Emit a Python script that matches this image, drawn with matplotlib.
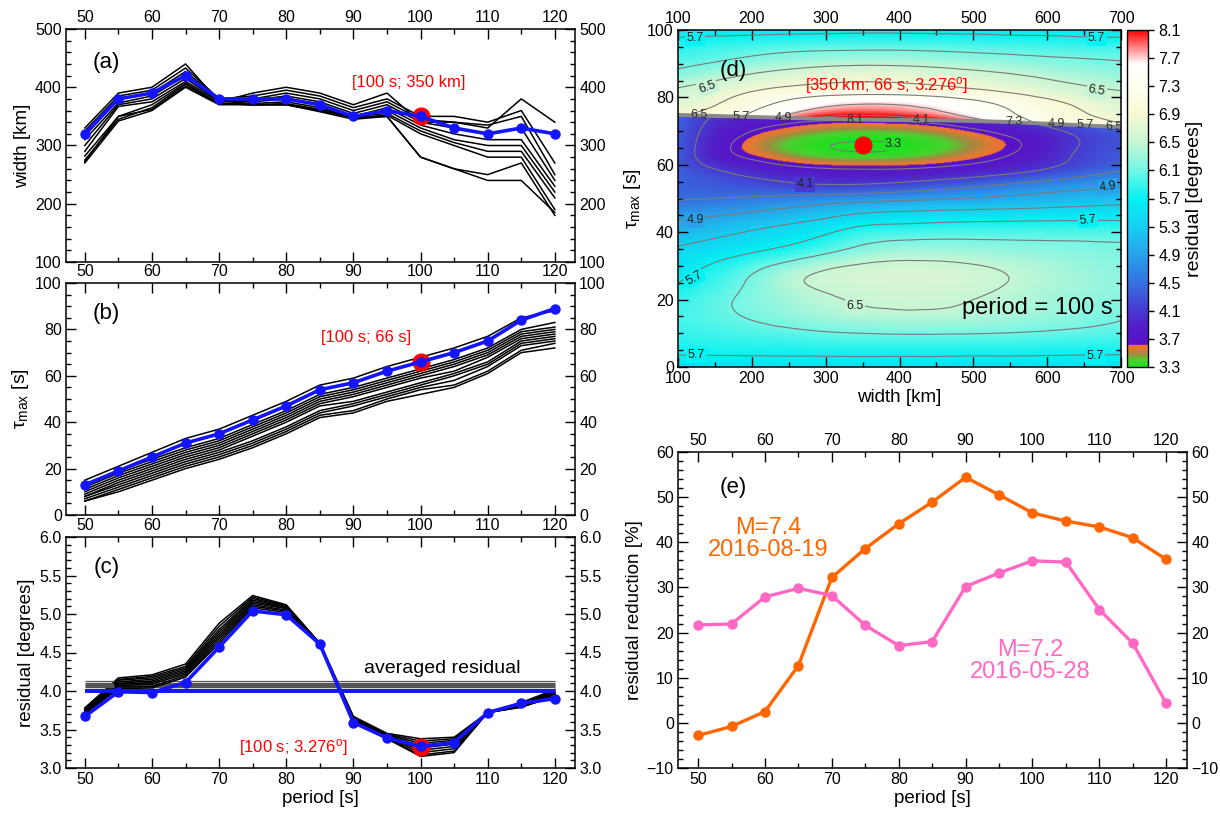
import numpy as np
import matplotlib
matplotlib.use("Agg")
import matplotlib.pyplot as plt
import matplotlib.tri as mtri
from matplotlib.colors import LinearSegmentedColormap, Normalize
from matplotlib.ticker import MultipleLocator, FormatStrFormatter

plt.rcParams['font.family'] = ['Liberation Sans', 'DejaVu Sans']
plt.rcParams['mathtext.fontset'] = 'custom'
plt.rcParams['mathtext.rm'] = 'Liberation Sans'
plt.rcParams['mathtext.it'] = 'Liberation Sans:italic'

# ---------------- data ----------------
PERIOD = [50, 55, 60, 65, 70, 75, 80, 85, 90, 95, 100, 105, 110, 115, 120]

BEST_PERIOD = 100
BEST_WIDTH = 350
BEST_TAU = 66
BEST_RESID = 3.276

WIDTH_BEST = [320, 380, 390, 420, 380, 380, 380, 370, 350, 360, 350, 330, 320, 330, 320]
WIDTH_OTHERS = [
    [330, 390, 400, 440, 375, 390, 400, 390, 370, 390, 340, 340, 330, 380, 340],
    [325, 385, 395, 433, 380, 385, 395, 385, 365, 380, 350, 350, 340, 360, 270],
    [316, 380, 390, 427, 380, 380, 390, 380, 360, 375, 345, 340, 335, 350, 250],
    [310, 373, 385, 420, 378, 378, 385, 375, 355, 370, 340, 330, 320, 330, 240],
    [300, 370, 380, 415, 377, 375, 380, 370, 350, 365, 335, 320, 310, 310, 230],
    [290, 367, 375, 410, 376, 372, 375, 365, 350, 360, 330, 310, 300, 300, 220],
    [282, 350, 370, 407, 373, 370, 372, 362, 350, 355, 325, 305, 290, 290, 210],
    [275, 345, 365, 405, 372, 370, 370, 360, 348, 352, 320, 300, 280, 280, 190],
    [270, 342, 360, 400, 370, 370, 370, 358, 345, 350, 280, 260, 250, 270, 180],
    [272, 350, 362, 402, 372, 370, 370, 360, 348, 350, 280, 260, 240, 240, 185],
]

TAU_BEST = [13, 19, 25, 31, 35, 41, 47, 54, 57, 62, 66, 70, 75, 84, 89]
TAU_OTHERS = [
    [15, 21, 27, 33, 37, 43, 49, 56, 59, 64, 68, 72, 77, 85, 88],
    [13, 19, 24, 29, 33, 39, 45, 52, 55, 59, 63, 67, 72, 80, 83],
    [12, 18, 23, 28, 32, 38, 44, 51, 54, 58, 62, 66, 71, 79, 81],
    [11, 17, 22, 27, 31, 37, 43, 50, 53, 57, 61, 65, 70, 78, 80],
    [10, 16, 21, 26, 30, 36, 42, 49, 52, 56, 60, 64, 69, 77, 79],
    [9, 15, 20, 25, 29, 35, 41, 48, 51, 55, 59, 62, 68, 76, 78],
    [8, 14, 19, 24, 28, 34, 40, 47, 49, 53, 57, 61, 66, 75, 77],
    [8, 13, 18, 23, 27, 32, 38, 45, 48, 52, 56, 60, 65, 74, 76],
    [7, 12, 17, 22, 26, 31, 37, 44, 47, 51, 55, 58, 64, 73, 75],
    [6, 11, 16, 21, 25, 30, 36, 43, 45, 50, 54, 56, 62, 71, 74],
    [6, 10, 15, 20, 24, 29, 35, 42, 44, 49, 52, 55, 61, 70, 72],
]

RES_BEST = [3.67, 3.99, 3.98, 4.11, 4.57, 5.04, 4.99, 4.61, 3.59, 3.39, 3.28, 3.33, 3.72, 3.84, 3.90]
RES_OTHERS = [
    [3.78, 4.17, 4.21, 4.35, 4.88, 5.24, 5.12, 4.62, 3.67, 3.45, 3.38, 3.40, 3.72, 3.85, 4.02],
    [3.77, 4.15, 4.19, 4.32, 4.84, 5.22, 5.11, 4.62, 3.66, 3.44, 3.35, 3.38, 3.72, 3.84, 4.00],
    [3.76, 4.14, 4.17, 4.30, 4.80, 5.20, 5.10, 4.61, 3.65, 3.43, 3.32, 3.36, 3.72, 3.83, 3.99],
    [3.75, 4.12, 4.15, 4.28, 4.77, 5.18, 5.09, 4.61, 3.64, 3.42, 3.29, 3.34, 3.72, 3.82, 3.98],
    [3.74, 4.10, 4.13, 4.26, 4.74, 5.16, 5.08, 4.61, 3.63, 3.41, 3.26, 3.31, 3.72, 3.81, 3.97],
    [3.73, 4.09, 4.11, 4.24, 4.71, 5.14, 5.07, 4.60, 3.62, 3.40, 3.23, 3.28, 3.72, 3.80, 3.96],
    [3.72, 4.07, 4.09, 4.22, 4.68, 5.12, 5.05, 4.60, 3.61, 3.39, 3.20, 3.25, 3.72, 3.79, 3.95],
    [3.71, 4.05, 4.06, 4.20, 4.65, 5.10, 5.04, 4.60, 3.61, 3.38, 3.17, 3.22, 3.72, 3.79, 3.93],
    [3.70, 4.03, 4.04, 4.18, 4.62, 5.08, 5.02, 4.60, 3.60, 3.38, 3.15, 3.20, 3.72, 3.80, 3.92],
]

REDUCTION_M74 = [-2.8, -0.8, 2.5, 12.7, 32.2, 38.6, 44.1, 48.9, 54.4, 50.5, 46.5, 44.7, 43.4, 41.0, 36.2]
REDUCTION_M72 = [21.7, 21.9, 27.9, 29.8, 28.2, 21.6, 17.1, 18.0, 30.2, 33.2, 35.9, 35.6, 25.1, 17.6, 4.3]

# residual map (period = 100 s), read on a coarse grid
GRID_WIDTH = [100, 150, 200, 250, 300, 350, 400, 450, 500, 550, 600, 650, 700]
BOUNDARY_TAU = [74.8, 74.5, 74.2, 73.9, 73.6, 73.4, 73.3, 73.2, 73.0, 72.7, 72.2, 71.7, 71.2]
LOWER_TAU = [0, 5, 10, 15, 20, 25, 30, 35, 40, 45, 50, 54, 58, 62, 66, 70]
LOWER_RESID = [
    [5.50, 5.50, 5.50, 5.50, 5.50, 5.50, 5.50, 5.50, 5.50, 5.50, 5.50, 5.50, 5.50],
    [5.76, 5.77, 5.78, 5.79, 5.80, 5.81, 5.81, 5.81, 5.80, 5.80, 5.79, 5.78, 5.77],
    [5.88, 5.92, 5.97, 6.02, 6.07, 6.10, 6.12, 6.12, 6.11, 6.09, 6.06, 6.03, 6.00],
    [5.94, 6.02, 6.13, 6.24, 6.34, 6.40, 6.43, 6.43, 6.40, 6.35, 6.28, 6.20, 6.12],
    [5.86, 6.02, 6.18, 6.34, 6.46, 6.53, 6.56, 6.55, 6.50, 6.43, 6.35, 6.27, 6.20],
    [5.70, 5.92, 6.15, 6.42, 6.56, 6.62, 6.65, 6.64, 6.59, 6.49, 6.40, 6.32, 6.25],
    [5.52, 5.75, 5.98, 6.22, 6.42, 6.54, 6.58, 6.57, 6.52, 6.44, 6.36, 6.28, 6.20],
    [5.35, 5.48, 5.62, 5.78, 5.98, 6.18, 6.28, 6.29, 6.27, 6.24, 6.21, 6.18, 6.15],
    [5.07, 5.20, 5.33, 5.47, 5.65, 5.86, 5.92, 5.95, 5.96, 5.96, 5.96, 5.96, 5.95],
    [4.81, 4.88, 4.98, 5.09, 5.22, 5.37, 5.43, 5.47, 5.50, 5.52, 5.54, 5.56, 5.57],
    [4.47, 4.50, 4.55, 4.61, 4.68, 4.74, 4.80, 4.86, 4.92, 4.98, 5.04, 5.10, 5.15],
    [4.40, 4.33, 4.25, 4.17, 4.12, 4.13, 4.20, 4.30, 4.42, 4.55, 4.67, 4.77, 4.85],
    [4.38, 4.15, 3.97, 3.85, 3.78, 3.76, 3.77, 3.82, 3.90, 4.02, 4.18, 4.36, 4.52],
    [4.33, 3.90, 3.67, 3.52, 3.43, 3.40, 3.42, 3.49, 3.60, 3.74, 3.95, 4.18, 4.33],
    [4.35, 3.86, 3.56, 3.40, 3.31, 3.28, 3.30, 3.37, 3.49, 3.64, 3.87, 4.13, 4.30],
    [4.35, 3.95, 3.70, 3.56, 3.47, 3.44, 3.46, 3.53, 3.65, 3.80, 4.00, 4.22, 4.35],
]
LOWER_AT_BOUNDARY = [4.40, 4.08, 3.90, 3.80, 3.74, 3.72, 3.74, 3.79, 3.88, 4.00, 4.17, 4.35, 4.45]

UPPER_AT_BOUNDARY = [6.85, 7.05, 7.40, 7.85, 8.25, 8.40, 8.35, 8.15, 7.85, 7.50, 7.25, 7.10, 7.00]
UPPER_NEAR_BOUNDARY = [6.80, 6.98, 7.30, 7.65, 7.95, 8.05, 8.00, 7.85, 7.62, 7.38, 7.15, 7.00, 6.88]
UPPER_TAU = [78, 82, 86, 90, 94, 98, 100]
UPPER_RESID = [
    [6.70, 6.88, 7.15, 7.42, 7.62, 7.70, 7.68, 7.58, 7.42, 7.22, 7.02, 6.82, 6.66],
    [6.55, 6.70, 6.88, 7.02, 7.10, 7.13, 7.12, 7.06, 6.96, 6.84, 6.70, 6.58, 6.50],
    [6.26, 6.42, 6.58, 6.70, 6.78, 6.82, 6.80, 6.74, 6.66, 6.57, 6.47, 6.38, 6.30],
    [6.02, 6.13, 6.25, 6.35, 6.42, 6.45, 6.44, 6.40, 6.34, 6.28, 6.22, 6.17, 6.13],
    [5.86, 5.93, 6.00, 6.06, 6.09, 6.10, 6.10, 6.08, 6.05, 6.02, 5.99, 5.97, 5.95],
    [5.69, 5.71, 5.73, 5.75, 5.76, 5.77, 5.77, 5.76, 5.75, 5.73, 5.72, 5.70, 5.69],
    [5.60, 5.61, 5.62, 5.63, 5.64, 5.65, 5.65, 5.64, 5.63, 5.62, 5.61, 5.60, 5.59],
]

BAND_LABELS = ["6.5", "5.7", "4.9", "8.1", "4.1", "7.3", "4.9", "5.7", "6.5"]
BAND_LABEL_WIDTH = [128, 185, 243, 340, 430, 555, 612, 652, 690]

# contour labels: (level, width, tau, rotation)
CONTOUR_LABELS = [
    (3.3, 392, 66.3, 0),
    (4.1, 272, 54.2, 0),
    (4.9, 123, 43.6, 0), (4.9, 682, 53.5, 8),
    (5.7, 123, 97.6, 0), (5.7, 667, 97.6, 0), (5.7, 122, 26.5, 30),
    (5.7, 655, 43.6, 5), (5.7, 125, 3.5, 0), (5.7, 665, 3.2, 0),
    (6.5, 140, 83.0, 20), (6.5, 667, 82.0, -10), (6.5, 340, 18.0, 0),
]

CMAP_NODES = [
    (3.30, '#20e020'), (3.40, '#4cd030'), (3.48, '#a08a40'), (3.56, '#e07a34'),
    (3.615, '#f07030'), (3.62, '#5a10c8'), (3.90, '#5220c8'), (4.10, '#4838d0'),
    (4.50, '#3472e0'), (4.90, '#28a2ea'), (5.30, '#16cff2'), (5.70, '#04f2f2'),
    (6.10, '#72f6e6'), (6.50, '#c6f6d4'), (6.90, '#f8f8d4'), (7.30, '#fffff0'),
    (7.62, '#ffffff'), (7.70, '#ffd4d4'), (8.10, '#ff0000'),
]

# ---------------- figure ----------------
fig = plt.figure(figsize=(12.2, 8.15), dpi=100)
W, H = 1220.0, 815.0


def add_ax(l, t, r, b):
    return fig.add_axes([l / W, 1 - b / H, (r - l) / W, (b - t) / H])


def style(ax, xmaj, xmin, ymaj, ymin):
    ax.xaxis.set_major_locator(MultipleLocator(xmaj))
    ax.xaxis.set_minor_locator(MultipleLocator(xmin))
    ax.yaxis.set_major_locator(MultipleLocator(ymaj))
    ax.yaxis.set_minor_locator(MultipleLocator(ymin))
    ax.tick_params(which='both', direction='in', top=True, right=True,
                   labelsize=11.5, width=1.0, pad=3)
    ax.tick_params(which='major', length=7)
    ax.tick_params(which='minor', length=3.5)
    for s in ax.spines.values():
        s.set_linewidth(1.1)


XLIM = (47.2, 123.0)
ax_a = add_ax(66, 29, 575, 262)
ax_b = add_ax(66, 283, 575, 515)
ax_c = add_ax(66, 537, 575, 768)
ax_d = add_ax(678, 30, 1121, 367)
cax = add_ax(1127, 30, 1148, 367)
ax_e = add_ax(678, 452, 1187, 768)

BLUE = '#1414ff'

# (a)
for ys in WIDTH_OTHERS:
    ax_a.plot(PERIOD, ys, color='black', lw=1.1)
ax_a.plot(BEST_PERIOD, BEST_WIDTH, 'o', color='red', ms=12, zorder=4)
ax_a.plot(PERIOD, WIDTH_BEST, '-o', color=BLUE, lw=2.6, ms=6.5, zorder=5)
ax_a.set_xlim(*XLIM)
ax_a.set_ylim(100, 500)
style(ax_a, 10, 5, 100, 20)
ax_a.tick_params(labeltop=True, labelbottom=False, labelright=True)
ax_a.set_ylabel('width [km]', fontsize=13.5, labelpad=3)
ax_a.text(53.2, 443, '(a)', fontsize=16, ha='center', va='center')
ax_a.text(98.3, 409, '[%d s; %d km]' % (BEST_PERIOD, BEST_WIDTH), color='red',
          fontsize=12, ha='center', va='center')

# (b)
for ys in TAU_OTHERS:
    ax_b.plot(PERIOD, ys, color='black', lw=1.1)
ax_b.plot(BEST_PERIOD, BEST_TAU, 'o', color='red', ms=12, zorder=4)
ax_b.plot(PERIOD, TAU_BEST, '-o', color=BLUE, lw=2.6, ms=6.5, zorder=5)
ax_b.set_xlim(*XLIM)
ax_b.set_ylim(0, 100)
style(ax_b, 10, 5, 20, 5)
ax_b.tick_params(labeltop=True, labelbottom=False, labelright=True)
ax_b.set_ylabel(r'τ$_{\mathrm{max}}$ [s]', fontsize=14, labelpad=3)
ax_b.text(53.2, 87, '(b)', fontsize=16, ha='center', va='center')
ax_b.text(91.9, 76.3, '[%d s; %d s]' % (BEST_PERIOD, BEST_TAU), color='red',
          fontsize=12, ha='center', va='center')

# (c)
for ys in RES_OTHERS:
    ax_c.plot(PERIOD, ys, color='black', lw=1.1)
    ax_c.hlines(np.mean(ys), PERIOD[0], PERIOD[-1], color='#555555', lw=0.9)
ax_c.hlines(np.mean(RES_BEST), PERIOD[0], PERIOD[-1], color=BLUE, lw=2.8, zorder=3)
ax_c.plot(BEST_PERIOD, BEST_RESID, 'o', color='red', ms=12, zorder=4)
ax_c.plot(PERIOD, RES_BEST, '-o', color=BLUE, lw=2.6, ms=6.5, zorder=5)
ax_c.set_xlim(*XLIM)
ax_c.set_ylim(3.0, 6.0)
style(ax_c, 10, 5, 0.5, 0.1)
ax_c.yaxis.set_major_formatter(FormatStrFormatter('%.1f'))
ax_c.tick_params(labeltop=True, labelbottom=True, labelright=True)
ax_c.set_ylabel('residual [degrees]', fontsize=13.5, labelpad=3)
ax_c.set_xlabel('period [s]', fontsize=13.5, labelpad=2)
ax_c.text(53.2, 5.60, '(c)', fontsize=16, ha='center', va='center')
ax_c.text(103.2, 4.29, 'averaged residual', fontsize=14, ha='center', va='center')
ax_c.text(81, 3.26, '[%d s; %.3f$^{\\mathrm{o}}$]' % (BEST_PERIOD, BEST_RESID),
          color='red', fontsize=12, ha='center', va='center')

# (d) residual map
norm = Normalize(3.3, 8.1)
cmap = LinearSegmentedColormap.from_list(
    'resid', [((v - 3.3) / (8.1 - 3.3), c) for v, c in CMAP_NODES], N=1024)


def mesh_interp(xs, rows_tau, rows_val):
    ny, nx = len(rows_tau), len(xs)
    X = np.tile(np.asarray(xs, float), ny)
    Y = np.concatenate([np.asarray(r, float) for r in rows_tau])
    Zv = np.concatenate([np.asarray(r, float) for r in rows_val])
    idx = np.arange(ny * nx).reshape(ny, nx)
    tris = []
    for j in range(ny - 1):
        for i in range(nx - 1):
            a, b, c, d = idx[j, i], idx[j, i + 1], idx[j + 1, i + 1], idx[j + 1, i]
            tris.append([a, b, c])
            tris.append([a, c, d])
    T = mtri.Triangulation(X, Y, np.array(tris))
    return mtri.CubicTriInterpolator(T, Zv, kind='min_E')


lower_rows_tau = [[t] * len(GRID_WIDTH) for t in LOWER_TAU] + [BOUNDARY_TAU]
lower_rows_val = LOWER_RESID + [LOWER_AT_BOUNDARY]
upper_rows_tau = [BOUNDARY_TAU, list(np.add(BOUNDARY_TAU, 1.5))] + \
    [[t] * len(GRID_WIDTH) for t in UPPER_TAU]
upper_rows_val = [UPPER_AT_BOUNDARY, UPPER_NEAR_BOUNDARY] + UPPER_RESID

f_low = mesh_interp(GRID_WIDTH, lower_rows_tau, lower_rows_val)
f_up = mesh_interp(GRID_WIDTH, upper_rows_tau, upper_rows_val)

wf = np.linspace(100.001, 699.999, 481)
tf = np.linspace(0.001, 99.999, 421)
WF, TF = np.meshgrid(wf, tf)
zl = f_low(WF, TF)
zu = f_up(WF, TF)
ml = np.ma.getmaskarray(zl)
Z = np.where(~ml, np.ma.getdata(zl), np.ma.getdata(zu))
Z = np.ma.masked_invalid(np.where(ml & np.ma.getmaskarray(zu), np.nan, Z))

im = ax_d.imshow(Z, extent=[100, 700, 0, 100], origin='lower', aspect='auto',
                 cmap=cmap, norm=norm, interpolation='bilinear')
levels = np.round(np.arange(3.3, 8.15, 0.4), 1)
cs = ax_d.contour(WF, TF, Z, levels=levels, colors='#7a7a7a', linewidths=0.8)
ax_d.plot(GRID_WIDTH, BOUNDARY_TAU, color='#8a8a8a', lw=2.8, solid_capstyle='butt')

for lv, w, t, rot in CONTOUR_LABELS:
    ax_d.text(w, t, '%.1f' % lv, fontsize=9, color='#202020', ha='center',
              va='center', rotation=rot, rotation_mode='anchor',
              bbox=dict(boxstyle='square,pad=0.12', fc=cmap(norm(lv)), ec='none'))

for txt, w in zip(BAND_LABELS, BAND_LABEL_WIDTH):
    tau_here = np.interp(w, GRID_WIDTH, BOUNDARY_TAU)
    ax_d.text(w, tau_here, txt, fontsize=9, color='#303030', ha='center', va='center')

ax_d.plot(BEST_WIDTH, BEST_TAU, 'o', color='red', ms=12, zorder=6)
ax_d.set_xlim(100, 700)
ax_d.set_ylim(0, 100)
style(ax_d, 100, 50, 20, 5)
ax_d.tick_params(labeltop=True, labelbottom=True, labelright=False)
ax_d.set_xlabel('width [km]', fontsize=13.5, labelpad=2)
ax_d.set_ylabel(r'τ$_{\mathrm{max}}$ [s]', fontsize=14, labelpad=3)
ax_d.text(175, 88, '(d)', fontsize=16, ha='center', va='center')
ax_d.text(383, 83.5, '[%d km; %d s; %.3f$^{\\mathrm{o}}$]' % (BEST_WIDTH, BEST_TAU, BEST_RESID),
          color='red', fontsize=12, ha='center', va='center')
ax_d.text(688, 17.5, 'period = %d s' % BEST_PERIOD, fontsize=17, ha='right', va='center')

cb = fig.colorbar(im, cax=cax, ticks=levels)
cb.ax.yaxis.set_major_formatter(FormatStrFormatter('%.1f'))
cb.ax.tick_params(labelsize=11.5, direction='out', length=4, width=1.0)
cb.outline.set_linewidth(1.0)
cb.set_label('residual [degrees]', fontsize=14, labelpad=4)

# (e)
ax_e.plot(PERIOD, REDUCTION_M74, '-o', color='#ff6600', lw=2.4, ms=6.5)
ax_e.plot(PERIOD, REDUCTION_M72, '-o', color='#ff69c4', lw=2.4, ms=6.5)
ax_e.set_xlim(47.0, 123.1)
ax_e.set_ylim(-10, 60)
style(ax_e, 10, 5, 10, 2)
ax_e.tick_params(labeltop=True, labelbottom=True, labelright=True)
ax_e.set_xlabel('period [s]', fontsize=13.5, labelpad=2)
ax_e.set_ylabel('residual reduction [%]', fontsize=13.5, labelpad=3)
ax_e.text(55.2, 52.2, '(e)', fontsize=16, ha='center', va='center')
ax_e.text(60.5, 40.7, 'M=7.4\n2016-08-19', color='#ff6600', fontsize=17,
          ha='center', va='center', linespacing=1.0)
ax_e.text(99.6, 13.8, 'M=7.2\n2016-05-28', color='#ff69c4', fontsize=17,
          ha='center', va='center', linespacing=1.0)

fig.savefig('out.png', dpi=100)
